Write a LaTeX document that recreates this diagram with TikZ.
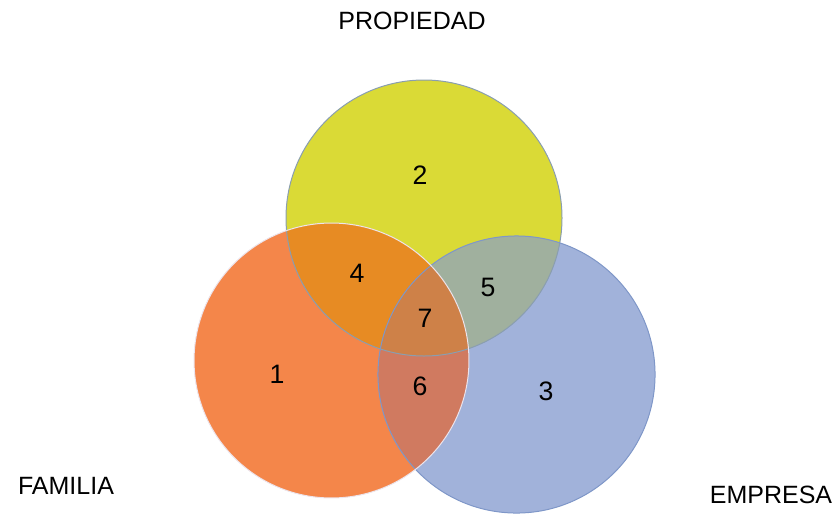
\documentclass[tikz,border=0pt]{standalone}
\usepackage{fontspec}
\setmainfont{Liberation Sans}
\definecolor{cyel}{HTML}{DADA36}
\definecolor{corg}{HTML}{F4864A}
\definecolor{cblu}{HTML}{A1B2DA}
\definecolor{cyo}{HTML}{E78B23}
\definecolor{cyb}{HTML}{A0B09E}
\definecolor{cob}{HTML}{D07A60}
\definecolor{call}{HTML}{CE8148}
\definecolor{eyel}{HTML}{8A9EB0}
\definecolor{eorg}{HTML}{ECE4EC}
\definecolor{eblu}{HTML}{7F97C8}
\begin{document}
\begin{tikzpicture}[x=0.75pt,y=-0.75pt,
  setlabel/.style={font=\fontsize{18.75pt}{20pt}\selectfont},
  numlabel/.style={font=\fontsize{20pt}{22pt}\selectfont},
  edge/.style={line width=0.75pt}]
\useasboundingbox (0,0) rectangle (839,515);
% set centres
\coordinate (P) at (424,218);
\coordinate (F) at (331.5,360.5);
\coordinate (E) at (516.5,374.5);
\def\rP{103.5pt}\def\rF{103.1pt}\def\rE{103.9pt}
% base discs
\fill[cyel] (P) circle[radius=\rP];
\fill[corg] (F) circle[radius=\rF];
\fill[cblu] (E) circle[radius=\rE];
% pairwise overlaps
\begin{scope}\clip (P) circle[radius=\rP]; \fill[cyo] (F) circle[radius=\rF];\end{scope}
\begin{scope}\clip (P) circle[radius=\rP]; \fill[cyb] (E) circle[radius=\rE];\end{scope}
\begin{scope}\clip (F) circle[radius=\rF]; \fill[cob] (E) circle[radius=\rE];\end{scope}
% triple overlap
\begin{scope}\clip (P) circle[radius=\rP]; \clip (F) circle[radius=\rF]; \fill[call] (E) circle[radius=\rE];\end{scope}
% outlines
\draw[edge,eyel] (P) circle[radius=\rP];
\draw[edge,eblu] (E) circle[radius=\rE];
\draw[edge,eorg] (F) circle[radius=\rF];
% region numbers
\node[numlabel] (n1) at (277,374) {1};
\node[numlabel] (n2) at (420,175) {2};
\node[numlabel] (n3) at (546,391) {3};
\node[numlabel] (n4) at (357,273) {4};
\node[numlabel] (n5) at (488,287) {5};
\node[numlabel] (n6) at (420,386) {6};
\node[numlabel] (n7) at (425,318) {7};
% set names
\node[setlabel] (lp) at (412,21) {PROPIEDAD};
\node[setlabel] (lf) at (66,486) {FAMILIA};
\node[setlabel] (le) at (771,495) {EMPRESA};
\end{tikzpicture}
\end{document}
